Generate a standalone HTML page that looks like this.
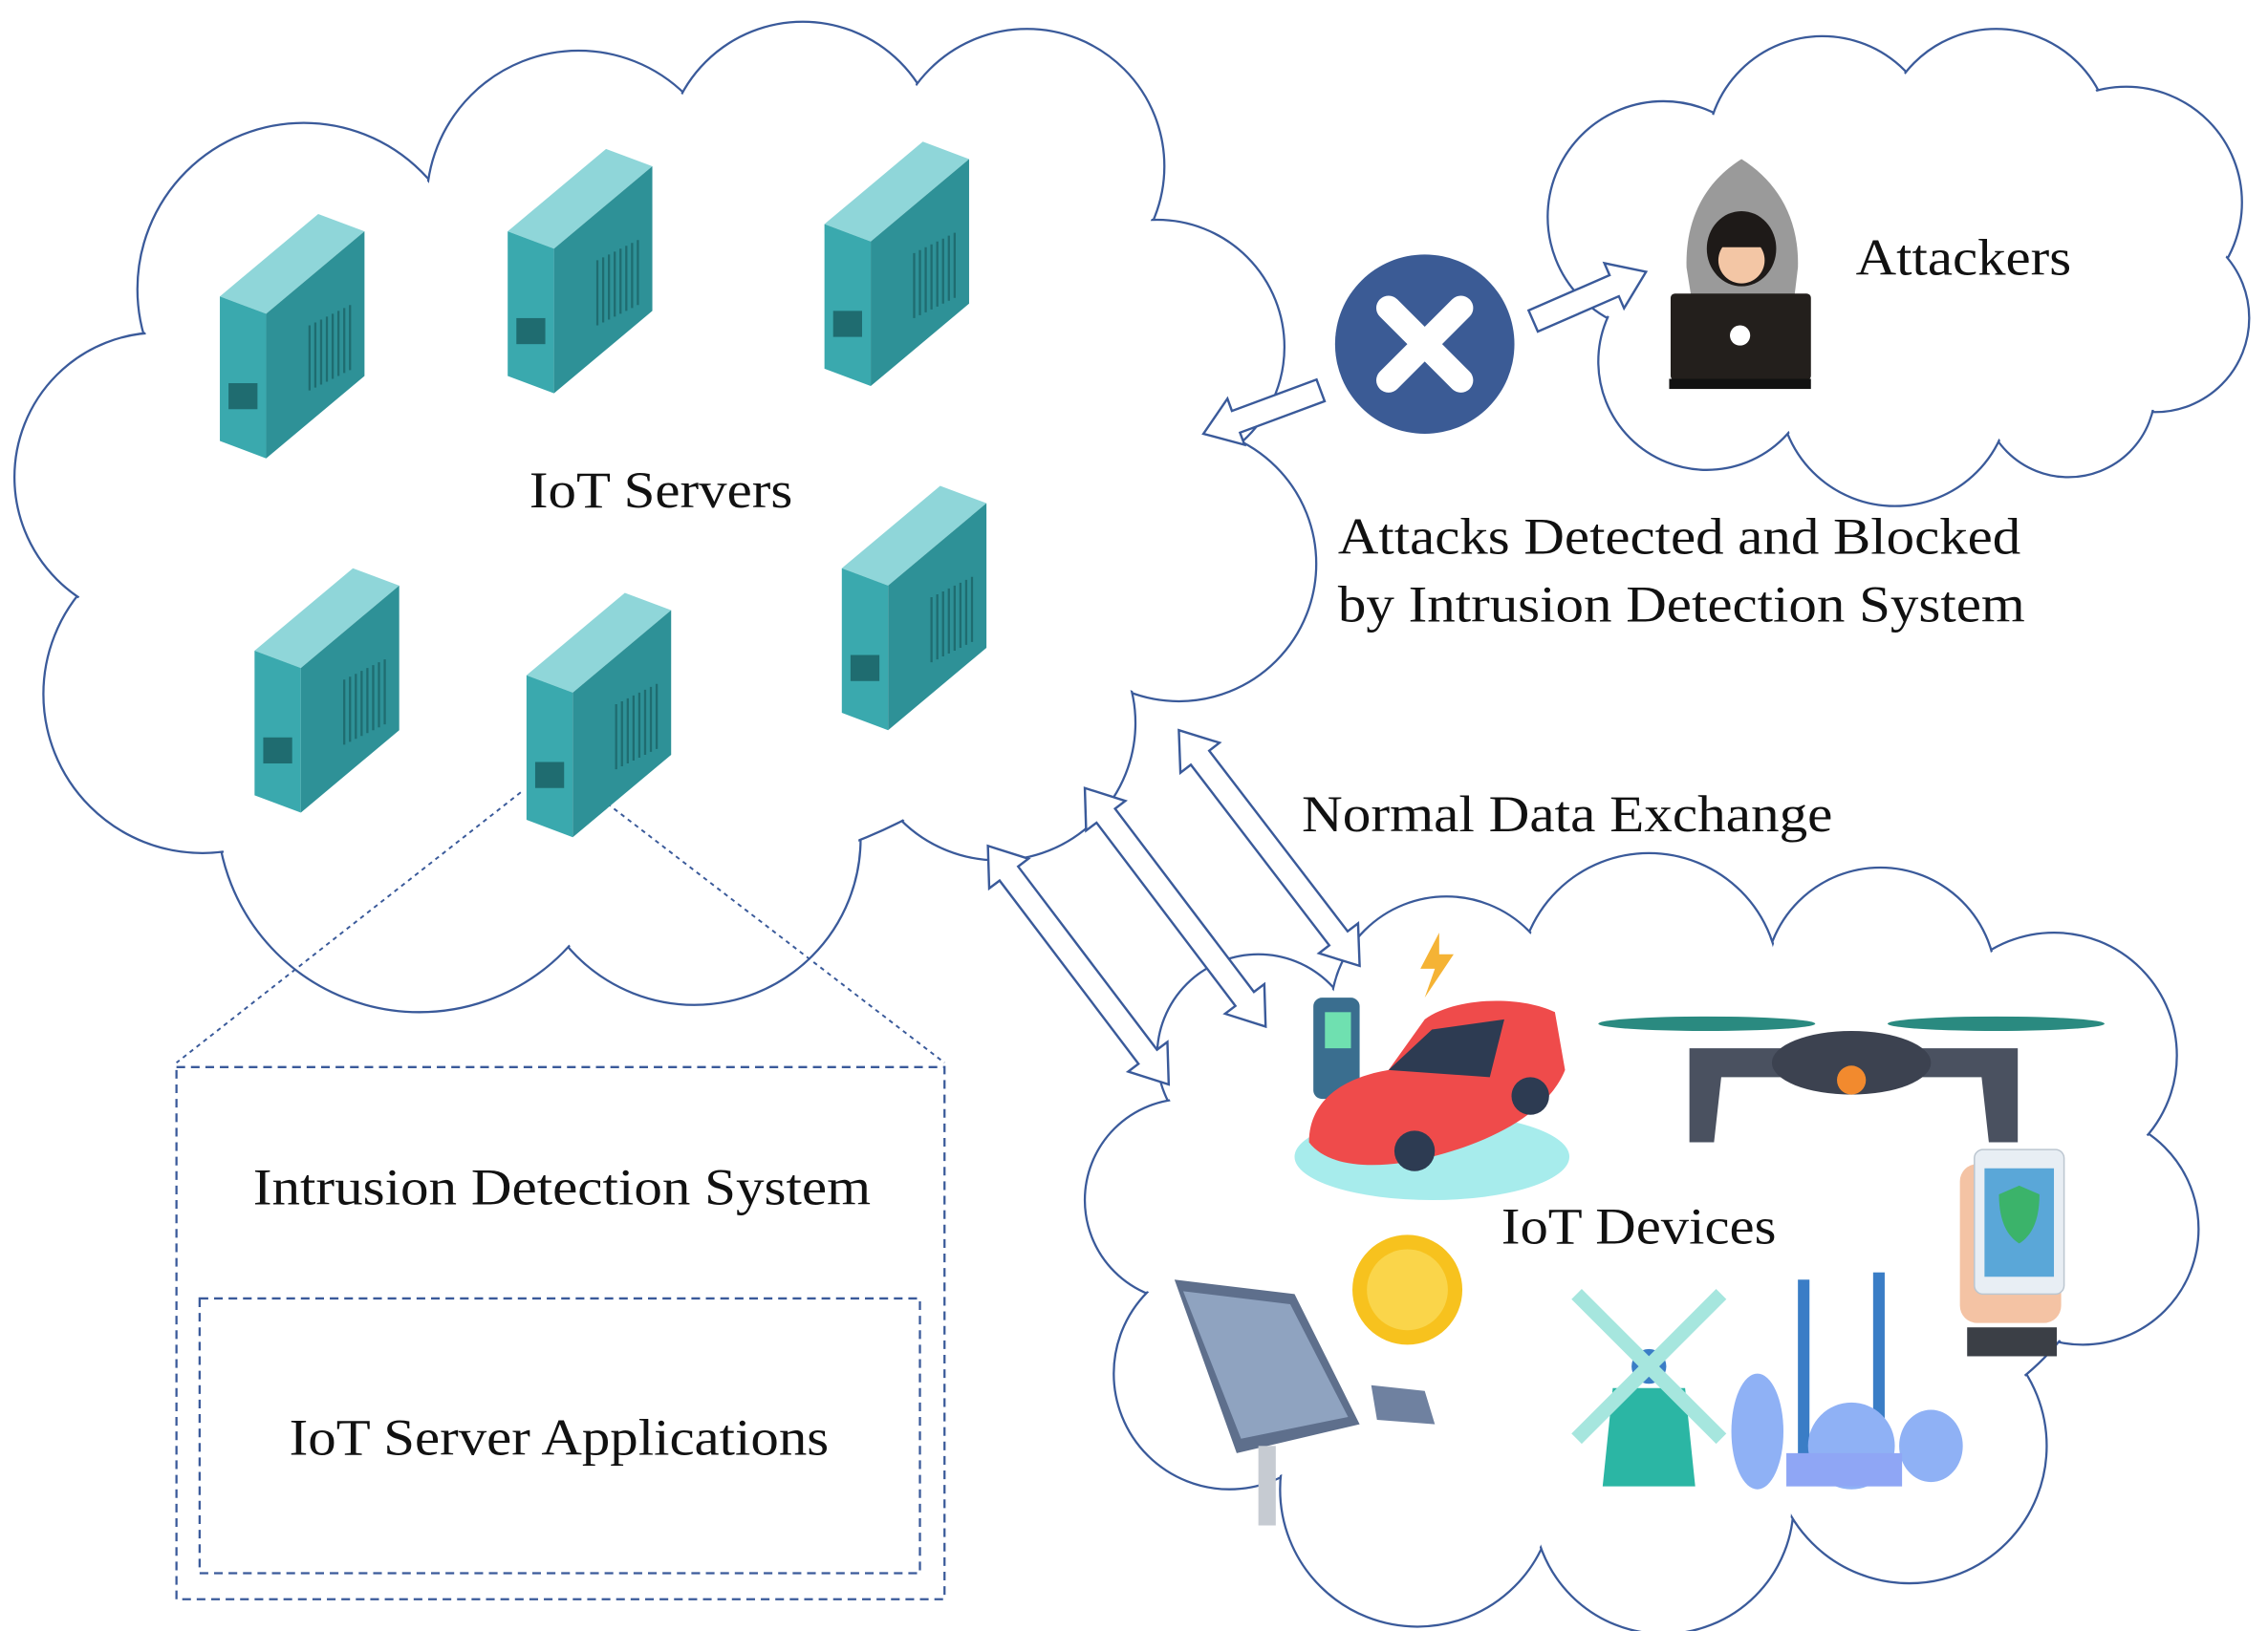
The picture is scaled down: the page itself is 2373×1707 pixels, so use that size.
<!DOCTYPE html>
<html><head><meta charset="utf-8"><style>
html,body{margin:0;padding:0;background:#fff}
svg{display:block}
text{font-family:"Liberation Serif",serif;fill:#111}
</style></head><body>
<svg id="s" width="2373" height="1707" viewBox="0 0 1568 1128" preserveAspectRatio="none" xmlns="http://www.w3.org/2000/svg">
<rect width="1568" height="1128" fill="#fff"/>
<g id="clouds"></g>
<rect x="122" y="738" width="531" height="368" fill="none" stroke="#3a5a9a" stroke-width="1.5" stroke-dasharray="6,4"/>
<rect x="138" y="898" width="498" height="190" fill="none" stroke="#3a5a9a" stroke-width="1.5" stroke-dasharray="6,4"/>
<line x1="360" y1="548" x2="122" y2="735" stroke="#3a5a9a" stroke-width="1.3" stroke-dasharray="3,3"/>
<line x1="415" y1="552" x2="653" y2="735" stroke="#3a5a9a" stroke-width="1.3" stroke-dasharray="3,3"/>
<g id="servers"></g>
<g id="arrows"></g>
<ellipse cx="985" cy="238" rx="62" ry="62" fill="#3b5b95"/>
<path d="M960 213 L1010 263 M1010 213 L960 263" stroke="#fff" stroke-width="17" stroke-linecap="round"/>
<path d="M1204 110 C1180 125 1165 150 1166 185 L1170 210 L1240 210 L1243 185 C1244 150 1228 125 1204 110Z" fill="#9a9a9a"/>
<ellipse cx="1204" cy="172" rx="24" ry="26" fill="#1e1a18"/>
<ellipse cx="1204" cy="180" rx="16" ry="16" fill="#f3c6a5"/>
<rect x="1184" y="160" width="40" height="11" rx="5" fill="#1e1a18"/>
<rect x="1155" y="203" width="97" height="60" rx="3" fill="#231f1c"/>
<rect x="1154" y="262" width="98" height="7" fill="#111"/>
<circle cx="1203" cy="232" r="7" fill="#fff"/>
<g id="dev">
<rect x="908" y="690" width="32" height="70" rx="6" fill="#3a6e8f"/>
<rect x="916" y="700" width="18" height="25" fill="#6fe0b0"/>
<polygon points="995,645 982,670 992,670 985,690 1005,660 995,660" fill="#f5b335"/>
<ellipse cx="990" cy="800" rx="95" ry="30" fill="#a7ecec"/>
<path d="M905 790 C905 760 930 745 960 740 L985 705 C1005 690 1050 688 1075 700 L1082 740 C1070 770 1030 790 990 800 C960 808 920 810 905 790Z" fill="#ef4b4b"/>
<path d="M960 740 L990 712 L1040 705 L1030 745 Z" fill="#2d3b52"/>
<circle cx="978" cy="796" r="14" fill="#2d3b52"/><circle cx="1058" cy="758" r="13" fill="#2d3b52"/>
<ellipse cx="1180" cy="708" rx="75" ry="5" fill="#2a8a80"/>
<ellipse cx="1380" cy="708" rx="75" ry="5" fill="#2a8a80"/>
<path d="M1168 725 L1395 725 L1395 790 L1375 790 L1370 745 L1190 745 L1185 790 L1168 790Z" fill="#4a5160"/>
<ellipse cx="1280" cy="735" rx="55" ry="22" fill="#3c4250"/>
<circle cx="1280" cy="747" r="10" fill="#f28a2e"/>
<rect x="1355" y="805" width="70" height="110" rx="12" fill="#f4c3a4"/>
<rect x="1365" y="795" width="62" height="100" rx="6" fill="#e8eef4" stroke="#bcc6d0"/>
<rect x="1372" y="808" width="48" height="75" fill="#5aa7d8"/>
<path d="M1396 820 L1410 826 C1410 845 1404 855 1396 860 C1388 855 1382 845 1382 826Z" fill="#3bb36a"/>
<rect x="1360" y="918" width="62" height="20" fill="#3b3f46"/>
<circle cx="973" cy="892" r="38" fill="#f7c21e"/>
<circle cx="973" cy="892" r="28" fill="#fad54a"/>
<polygon points="812,885 895,895 940,985 855,1005" fill="#5e6f8c"/>
<polygon points="818,893 892,902 932,980 858,995" fill="#8fa3c0"/>
<rect x="870" y="1000" width="12" height="55" fill="#c6cbd2"/>
<polygon points="948,958 985,962 992,985 952,982" fill="#6f81a0"/>
<polygon points="1115,960 1165,960 1172,1028 1108,1028" fill="#2bb6a4"/>
<circle cx="1140" cy="945" r="12" fill="#3a7dc6"/>
<path d="M1090 895 L1190 995 M1190 895 L1090 995" stroke="#a6e6de" stroke-width="10"/>
<rect x="1243" y="885" width="8" height="140" fill="#3a7dc6"/>
<rect x="1295" y="880" width="8" height="145" fill="#3a7dc6"/>
<ellipse cx="1215" cy="990" rx="18" ry="40" fill="#8fb1f5"/>
<ellipse cx="1280" cy="1000" rx="30" ry="30" fill="#8fb1f5"/>
<ellipse cx="1335" cy="1000" rx="22" ry="25" fill="#8fb1f5"/>
<rect x="1235" y="1005" width="80" height="23" fill="#8fa6f5"/>
</g>
<g font-size="36" lengthAdjust="spacingAndGlyphs">
<text x="366" y="351" textLength="182" lengthAdjust="spacingAndGlyphs">IoT Servers</text>
<text x="1283" y="190" textLength="149" lengthAdjust="spacingAndGlyphs">Attackers</text>
<text x="925" y="383" textLength="472" lengthAdjust="spacingAndGlyphs">Attacks Detected and Blocked</text>
<text x="925" y="430" textLength="475" lengthAdjust="spacingAndGlyphs">by Intrusion Detection System</text>
<text x="900" y="575" textLength="367" lengthAdjust="spacingAndGlyphs">Normal Data Exchange</text>
<text x="1038" y="860" textLength="190" lengthAdjust="spacingAndGlyphs">IoT Devices</text>
<text x="175" y="833" textLength="427" lengthAdjust="spacingAndGlyphs">Intrusion Detection System</text>
<text x="200" y="1006" textLength="373" lengthAdjust="spacingAndGlyphs">IoT Server Applications</text>
</g>
</svg>
<script>
var NS="http://www.w3.org/2000/svg";
function el(p,t,a){var e=document.createElementNS(NS,t);for(var k in a)e.setAttribute(k,a[k]);p.appendChild(e);return e;}
var C=document.getElementById('clouds');
function cloud(circ,fills){
 circ.forEach(function(c){el(C,'ellipse',{cx:c[0],cy:c[1],rx:c[2],ry:c[3]||c[2],fill:'#fff',stroke:'#3a5a9a','stroke-width':1.5});});
 circ.concat(fills||[]).forEach(function(c){el(C,'ellipse',{cx:c[0],cy:c[1],rx:c[2]-1.5,ry:(c[3]||c[2])-1.5,fill:'#fff'});});
}
cloud([[210,200,115],[400,140,105],[555,110,95],[710,115,95],[800,240,88],[815,390,95],[690,500,95],[480,580,115],[290,560,140],[140,480,110],[110,330,100],[440,360,330,250]],[[700,250,80],[650,180,80]]);
cloud([[1150,150,80],[1260,105,80],[1380,100,80],[1470,140,80],[1490,220,65],[1430,270,60],[1310,270,80],[1180,250,75],[1310,190,170,90]]);
cloud([[870,730,70],[820,830,70],[850,950,80],[980,1030,95],[1150,1040,90],[1320,1000,95],[1440,850,80],[1420,730,85],[1300,680,80],[1140,680,90],[1000,700,80],[1130,860,320,170]]);
var S=document.getElementById('servers');
function srv(x,y){
 var fw=32,sw=68,h=100;
 el(S,'polygon',{points:x+','+y+' '+(x+fw)+','+(y+12)+' '+(x+fw+sw)+','+(y-45)+' '+(x+sw)+','+(y-57),fill:'#8fd6d9'});
 el(S,'polygon',{points:x+','+y+' '+(x+fw)+','+(y+12)+' '+(x+fw)+','+(y+h+12)+' '+x+','+(y+h),fill:'#3aa9ae'});
 el(S,'polygon',{points:(x+fw)+','+(y+12)+' '+(x+fw+sw)+','+(y-45)+' '+(x+fw+sw)+','+(y+h-45)+' '+(x+fw)+','+(y+h+12),fill:'#2e9197'});
 el(S,'rect',{x:x+6,y:y+60,width:20,height:18,fill:'#1f6c70'});
 for(var i=0;i<8;i++)el(S,'line',{x1:x+fw+30+i*4,y1:y+20-i*2,x2:x+fw+30+i*4,y2:y+65-i*2,stroke:'#1f6c70','stroke-width':1.5});
}
srv(152,205);srv(351,160);srv(570,155);srv(176,450);srv(364,467);srv(582,393);
var A=document.getElementById('arrows');
function arrow(x1,y1,x2,y2,dbl){
 var dx=x2-x1,dy=y2-y1,L=Math.hypot(dx,dy),ux=dx/L,uy=dy/L,nx=-uy,ny=ux,sw=8,hw=17,hl=24;
 function P(t,n){return (x1+ux*t+nx*n).toFixed(1)+','+(y1+uy*t+ny*n).toFixed(1);}
 var pts=[];
 if(dbl){pts.push(P(0,0),P(hl,hw),P(hl,sw));}else{pts.push(P(0,sw));}
 pts.push(P(L-hl,sw),P(L-hl,hw),P(L,0),P(L-hl,-hw),P(L-hl,-sw));
 if(dbl){pts.push(P(hl,-sw),P(hl,-hw));}else{pts.push(P(0,-sw));}
 el(A,'polygon',{points:pts.join(' '),fill:'#fff',stroke:'#3a5a9a','stroke-width':1.6});
}
arrow(913,270,832,300,false);
arrow(1060,222,1138,188,false);
arrow(815,505,940,668,true);
arrow(750,545,875,710,true);
arrow(683,585,808,750,true);
</script>
</body></html>
